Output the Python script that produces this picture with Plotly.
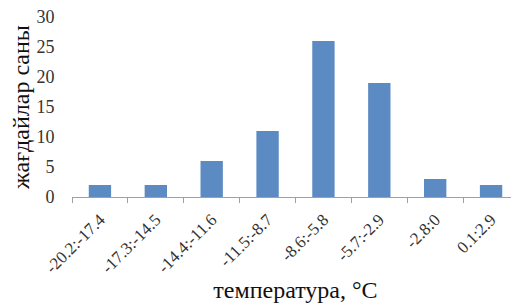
import plotly.graph_objects as go

categories = ["-20.2:-17.4", "-17.3:-14.5", "-14.4:-11.6", "-11.5:-8.7",
              "-8.6:-5.8", "-5.7:-2.9", "-2.8:0", "0.1:2.9"]
counts = [2, 2, 6, 11, 26, 19, 3, 2]
y_ticks = [0, 5, 10, 15, 20, 25, 30]

SERIF = "Liberation Serif, 'Times New Roman', DejaVu Serif, serif"

fig = go.Figure(go.Bar(x=categories, y=counts, marker=dict(color="#5b8bc2", line=dict(width=0))))

# page body has an 8px margin, so the figure is sized 8px smaller
fig.update_layout(
    width=511, height=299,
    margin=dict(l=64, r=0, t=9, b=110, autoexpand=False),
    paper_bgcolor="white", plot_bgcolor="white",
    bargap=0.6,
    showlegend=False,
    font=dict(family=SERIF, color="#222"),
)
fig.update_xaxes(
    type="category", automargin=False,
    tickangle=-45, ticklabeloverflow="allow", ticklabelstandoff=5,
    tickfont=dict(size=17, family=SERIF, color="#333"),
    showline=True, linecolor="#a0a0a0", linewidth=1,
    ticks="outside", tickson="boundaries", ticklen=5, tickcolor="#a0a0a0",
    showgrid=False,
    title=dict(text="температура, °C", font=dict(size=24, family=SERIF, color="#111"), standoff=2),
)
fig.update_yaxes(
    range=[0, 30], tickvals=y_ticks, automargin=False,
    ticklabeloverflow="allow",
    tickfont=dict(size=18, family=SERIF, color="#333"),
    showgrid=False, showline=False, zeroline=False,
    ticks="outside", ticklen=13, tickcolor="rgba(0,0,0,0)",
    title=dict(text="жағдайлар саны", font=dict(size=24, family=SERIF, color="#111"), standoff=4),
)
fig.write_html("out.html")
